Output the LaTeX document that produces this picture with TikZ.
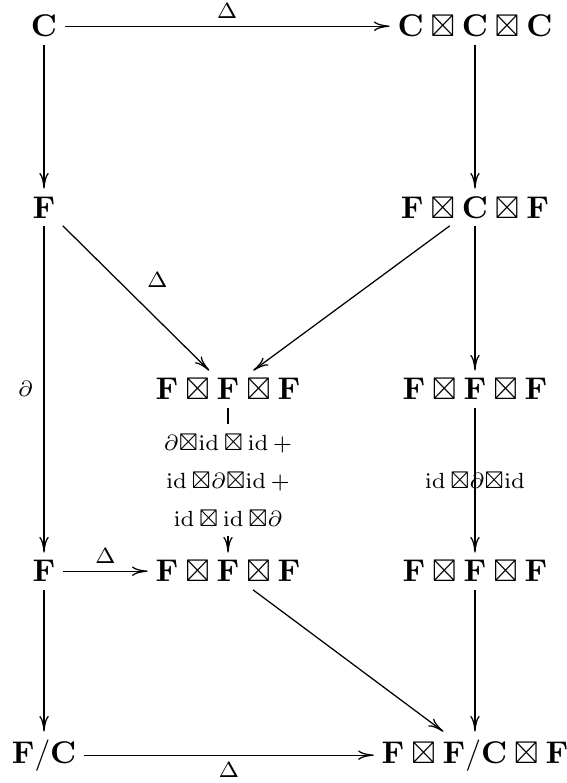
\documentclass[tikz,border=0pt]{standalone}
\usepackage{amsmath,amssymb}
\usetikzlibrary{arrows.meta}
\newcommand{\bx}{\boxtimes}
\newcommand{\idm}{\operatorname{id}}

\begin{document}
\begin{tikzpicture}[>={Computer Modern Rightarrow[length=5pt,width=3pt]},
  obj/.style={inner sep=2.3pt,anchor=base},
  lbl/.style={inner sep=2.2pt}]
  \useasboundingbox (0,0) rectangle (6.348,-8.767);
  % --- objects ---
  \node[obj] (c1) at (0.493,-0.414) {$\mathbf{C}$};
  \node[obj] (c3) at (5.318,-0.414) {$\mathbf{C}\bx\mathbf{C}\bx\mathbf{C}$};
  \node[obj] (f1) at (0.493,-2.441) {$\mathbf{F}$};
  \node[obj] (f3) at (5.318,-2.441) {$\mathbf{F}\bx\mathbf{C}\bx\mathbf{F}$};
  \node[obj] (m2) at (2.553,-4.478) {$\mathbf{F}\bx\mathbf{F}\bx\mathbf{F}$};
  \node[obj] (m3) at (5.318,-4.478) {$\mathbf{F}\bx\mathbf{F}\bx\mathbf{F}$};
  \node[obj] (g1) at (0.493,-6.516) {$\mathbf{F}$};
  \node[obj] (g2) at (2.553,-6.516) {$\mathbf{F}\bx\mathbf{F}\bx\mathbf{F}$};
  \node[obj] (g3) at (5.318,-6.516) {$\mathbf{F}\bx\mathbf{F}\bx\mathbf{F}$};
  \node[obj] (q1) at (0.493,-8.543) {$\mathbf{F}/\mathbf{C}$};
  \node[obj] (q3) at (5.318,-8.543) {$\mathbf{F}\bx\mathbf{F}/\mathbf{C}\bx\mathbf{F}$};
  % --- arrows ---
  \draw[->] (c1) -- node[lbl,above] {$\scriptstyle\Delta$} (c3);
  \draw[->] (c1) -- (f1);
  \draw[->] (c3) -- (f3);
  \draw[->] (f1) -- node[inner sep=3.33pt,above right] {$\scriptstyle\Delta$} (m2);
  \draw[->] (f3) -- (m2);
  \draw[->] (f3) -- (m3);
  \draw[->] (f1) -- node[inner sep=3.33pt,left] {$\scriptstyle\partial$} (g1);
  \draw[->] (m2) -- node[fill=white,align=center]
    {$\scriptstyle\partial\bx\idm\bx\idm+$\\
     $\scriptstyle\idm\bx\partial\bx\idm+$\\
     $\scriptstyle\idm\bx\idm\bx\partial$} (g2);
  \draw[->] (m3) -- node {$\scriptstyle\idm\bx\partial\bx\idm$} (g3);
  \draw[->] (g1) -- node[lbl,above] {$\scriptstyle\Delta$} (g2);
  \draw[->] (g2) -- (q3);
  \draw[->] (g3) -- (q3);
  \draw[->] (g1) -- (q1);
  \draw[->] (q1) -- node[lbl,below] {$\scriptstyle\Delta$} (q3);
\end{tikzpicture}
\end{document}
